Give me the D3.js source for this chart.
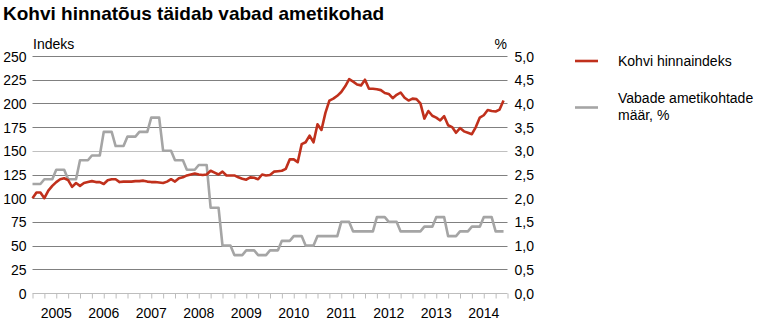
<!DOCTYPE html>
<html>
<head>
<meta charset="utf-8">
<script src="https://cdn.jsdelivr.net/npm/d3@7"></script>
<style>
  html, body { margin: 0; padding: 0; background: #fff; }
  svg { display: block; font-family: "Liberation Sans", Arial, sans-serif; }
</style>
</head>
<body>
<svg id="chart" width="763" height="326"></svg>
<script>
// Years shown on the time axis (monthly data, Jan 2005 – Dec 2014)
const years = ["2005", "2006", "2007", "2008", "2009", "2010", "2011", "2012", "2013", "2014"];

// Coffee price index, monthly (2005 = 100 basis)
const coffeeIndex = [
  100, 106, 106, 100, 108, 113, 117, 120, 121, 119, 112, 116,
  113, 116, 117, 118, 117, 117, 115, 119, 120, 120, 117, 117.5,
  117.5, 117.5, 118, 118, 118.5, 117.5, 117, 117, 116.5, 116, 117.5, 120,
  117.5, 121, 122, 124, 125, 126, 125, 124.5, 125, 129, 127, 125,
  128, 124, 124, 124, 122, 120.5, 119.5, 122, 121.5, 120, 125, 124,
  124.5, 128, 128.5, 129, 131, 141, 141, 138, 157, 159, 166, 159,
  178, 172, 190, 203, 205, 208, 212, 218, 225.5, 223, 220, 219,
  225, 215.5, 215.5, 215, 214, 211, 210, 205.5, 209, 211.5, 206, 203,
  205, 204.5, 200, 184, 192, 187, 185, 182, 186.5, 177, 175, 169,
  174, 170.5, 169, 167.5, 175, 185, 187.5, 193, 192, 191.5, 193.5, 203
];

// Job vacancy rate, %, quarterly (2005 Q1 – 2014 Q4)
const vacancyRate = [
  2.3, 2.4, 2.6, 2.4,
  2.8, 2.9, 3.4, 3.1,
  3.3, 3.4, 3.7, 3.0,
  2.8, 2.6, 2.7, 1.8,
  1.0, 0.8, 0.9, 0.8,
  0.9, 1.1, 1.2, 1.0,
  1.2, 1.2, 1.5, 1.3,
  1.3, 1.6, 1.5, 1.3,
  1.3, 1.4, 1.6, 1.2,
  1.3, 1.4, 1.6, 1.3
];

const leftTicks = [0, 25, 50, 75, 100, 125, 150, 175, 200, 225, 250];
const rightTicks = [0, 0.5, 1, 1.5, 2, 2.5, 3, 3.5, 4, 4.5, 5];

const seriesNames = ["Kohvi hinnaindeks", ["Vabade ametikohtade", "määr, %"]];
const colors = { coffee: "#c0301c", vacancy: "#a5a5a5" };

const svg = d3.select("#chart");

const plot = { left: 32.5, right: 507.5, top: 56, bottom: 293 };

// month index -> x
const x = d3.scaleLinear().domain([0, 120]).range([plot.left, plot.right]);
const yL = d3.scaleLinear().domain([0, 250]).range([plot.bottom, plot.top]);
const yR = d3.scaleLinear().domain([0, 5]).range([plot.bottom, plot.top]);

// Title
svg.append("text")
  .attr("x", 3).attr("y", 20)
  .attr("font-size", 19).attr("font-weight", "bold")
  .attr("fill", "#000")
  .text("Kohvi hinnatõus täidab vabad ametikohad");

// Horizontal gridlines
svg.append("g").selectAll("line")
  .data(leftTicks.filter(d => d > 0))
  .join("line")
  .attr("x1", plot.left).attr("x2", plot.right)
  .attr("y1", d => Math.round(yL(d)) + 0.5).attr("y2", d => Math.round(yL(d)) + 0.5)
  .attr("stroke", d => d === 150 ? "#c0c0c0" : "#808080")
  .attr("stroke-width", 1);

// Left axis (index)
const leftAxis = svg.append("g")
  .attr("transform", `translate(${plot.left - 6},0)`)
  .call(d3.axisLeft(yL).tickValues(leftTicks).tickSize(0).tickPadding(0).tickFormat(d3.format("d")));
leftAxis.select(".domain").remove();
leftAxis.selectAll("text")
  .attr("font-size", 14).attr("font-family", "Liberation Sans, Arial, sans-serif")
  .attr("fill", "#000").attr("dy", "0.36em");

// Right axis (percent)
const commaFmt = d => d3.format(".1f")(d).replace(".", ",");
const rightAxis = svg.append("g")
  .attr("transform", `translate(${plot.right + 7},0)`)
  .call(d3.axisRight(yR).tickValues(rightTicks).tickSize(0).tickPadding(0).tickFormat(commaFmt));
rightAxis.select(".domain").remove();
rightAxis.selectAll("text")
  .attr("font-size", 14).attr("font-family", "Liberation Sans, Arial, sans-serif")
  .attr("fill", "#000").attr("dy", "0.36em");

// Axis unit labels
svg.append("text").attr("x", 33).attr("y", 49).attr("font-size", 14).text("Indeks");
svg.append("text").attr("x", 507).attr("y", 49).attr("font-size", 14)
  .attr("text-anchor", "end").text("%");

// Bottom axis: quarter ticks, year labels centred in each year
const bottom = svg.append("g")
  .attr("transform", `translate(0,${Math.round(plot.bottom) + 0.5})`)
  .call(d3.axisBottom(x).tickValues(d3.range(0, 121, 3)).tickSize(5).tickFormat(""));
bottom.select(".domain").attr("stroke", "#bdbdbd").attr("d", `M${plot.left},0H${plot.right}`);
bottom.selectAll(".tick line").attr("stroke", "#bdbdbd");

svg.append("g").selectAll("text")
  .data(years)
  .join("text")
  .attr("x", (d, i) => x(i * 12 + 6))
  .attr("y", 318)
  .attr("text-anchor", "middle")
  .attr("font-size", 14)
  .text(d => d);

// Vacancy rate: each quarter's value held across its three months
const vacancyPts = vacancyRate.flatMap((v, q) => [[q * 3, v], [q * 3 + 2, v]]);
svg.append("path")
  .datum(vacancyPts)
  .attr("fill", "none")
  .attr("stroke", colors.vacancy)
  .attr("stroke-width", 2.6)
  .attr("stroke-linejoin", "round")
  .attr("d", d3.line().x(d => x(d[0])).y(d => yR(d[1])));

// Coffee price index
svg.append("path")
  .datum(coffeeIndex)
  .attr("fill", "none")
  .attr("stroke", colors.coffee)
  .attr("stroke-width", 2.6)
  .attr("stroke-linejoin", "round")
  .attr("d", d3.line().x((d, i) => x(i)).y(d => yL(d)));

// Legend
const legend = svg.append("g");
legend.append("line").attr("x1", 575).attr("x2", 598).attr("y1", 61).attr("y2", 61)
  .attr("stroke", colors.coffee).attr("stroke-width", 2.6);
legend.append("text").attr("x", 618).attr("y", 66).attr("font-size", 14).text(seriesNames[0]);
legend.append("line").attr("x1", 575).attr("x2", 598).attr("y1", 107.5).attr("y2", 107.5)
  .attr("stroke", colors.vacancy).attr("stroke-width", 2.6);
legend.append("text").attr("x", 618).attr("y", 103).attr("font-size", 14).text(seriesNames[1][0]);
legend.append("text").attr("x", 618).attr("y", 120).attr("font-size", 14).text(seriesNames[1][1]);
</script>
</body>
</html>
